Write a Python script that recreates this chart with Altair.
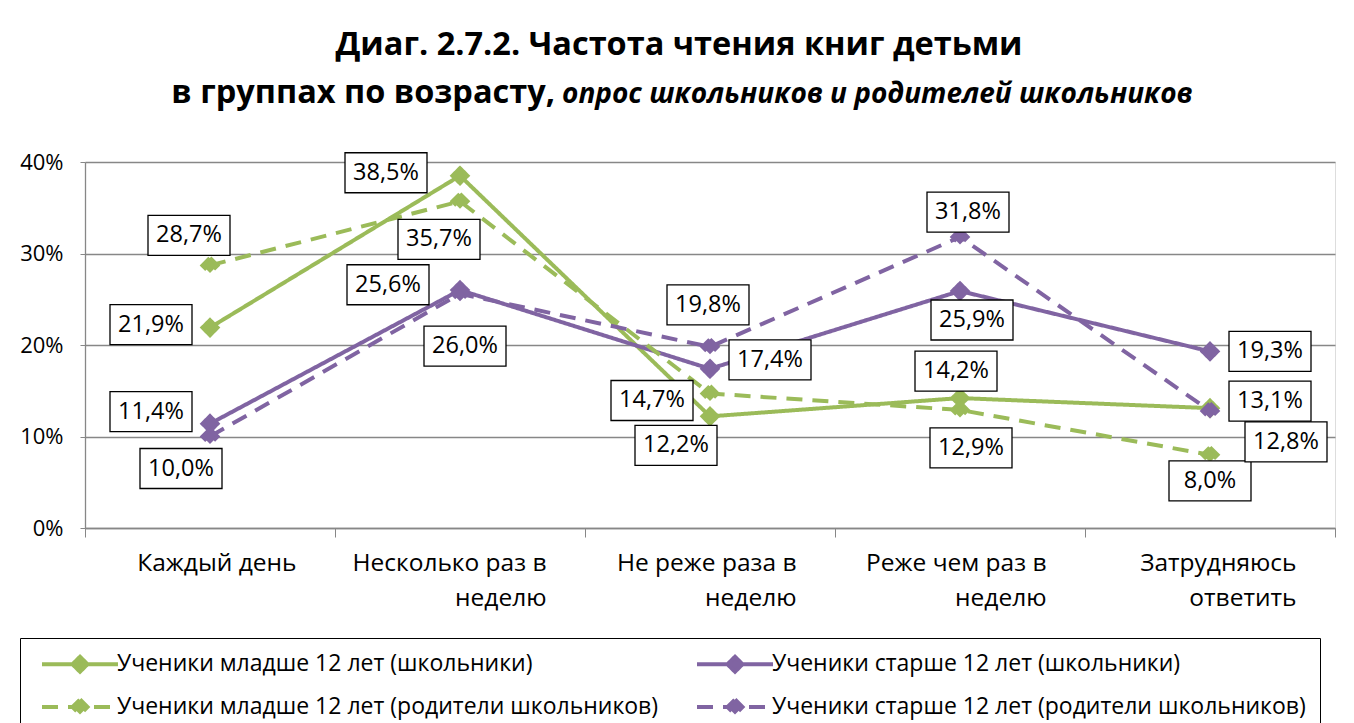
import json
import altair as alt
import pandas as pd

# ---------------- data ----------------
categories = ["Каждый день", "Несколько раз в неделю", "Не реже раза в неделю",
              "Реже чем раз в неделю", "Затрудняюсь ответить"]
category_lines = [["Каждый день"], ["Несколько раз в", "неделю"], ["Не реже раза в", "неделю"],
                  ["Реже чем раз в", "неделю"], ["Затрудняюсь", "ответить"]]
series_names = ["Ученики младше 12 лет (школьники)",
                "Ученики старше 12 лет (школьники)",
                "Ученики младше 12 лет (родители школьников)",
                "Ученики старше 12 лет (родители школьников)"]
young_pupils = [21.9, 38.5, 12.2, 14.2, 13.1]
old_pupils = [11.4, 26.0, 17.4, 25.9, 19.3]
young_parents = [28.7, 35.7, 14.7, 12.9, 8.0]
old_parents = [10.0, 25.6, 19.8, 31.8, 12.8]
y_ticks = [0, 10, 20, 30, 40]

title_line1 = "Диаг. 2.7.2. Частота чтения книг детьми"
title_line2_bold = "в группах по возрасту,"
title_line2_italic = "опрос школьников и родителей школьников"

# ---------------- styles ----------------
series_colors = ["#9BBB59", "#8064A2", "#9BBB59", "#8064A2"]
series_dashes = [[1, 0], [1, 0], [16, 10], [16, 10]]
# data-label box offsets (pixels) from each point, per series
label_dx = [[-59, -74, -34, -4, 60], [-59, 5, 60, 12, 60],
            [-21, -21, -58, 11, 0], [-29, -72, -2, 8, 76]]
label_dy = [[-3, -3, 29, -27, -7], [-12, 56, -9, 29, 0],
            [-30, 38, 7, 38, 26], [32, -9, -42, -25, 31]]
FONT = "Open Sans"
GRAY = "#878787"
DIAMOND = "M0,-0.75L0.75,0L0,0.75L-0.75,0Z"
LEGEND_SYMBOL = "M-3.8,0H3.8M0,-0.75L0.75,0L0,0.75L-0.75,0Z"

values_by_series = [young_pupils, old_pupils, young_parents, old_parents]
rows = []
for s, (name, vals) in enumerate(zip(series_names, values_by_series)):
    for i, v in enumerate(vals):
        rows.append({"idx": i, "series": name, "value": v,
                     "label": f"{v:.1f}%".replace(".", ","),
                     "dx": label_dx[s][i], "dy": label_dy[s][i]})
df = pd.DataFrame(rows)

n = len(categories)
x_tick_values = [i - 0.5 for i in range(n + 1)] + list(range(n))
label_expr = ("datum.value % 1 === 0 ? " + json.dumps(category_lines, ensure_ascii=False)
              + "[datum.value] : ''")

x_enc = alt.X("idx:Q",
              scale=alt.Scale(domain=[-0.5, n - 0.5], nice=False, zero=False),
              axis=alt.Axis(values=sorted(x_tick_values), labelExpr=label_expr, grid=False, title=None,
                            tickOpacity={"condition": {"test": "datum.value % 1 !== 0", "value": 1}, "value": 0},
                            tickSize=9, tickColor=GRAY, domainColor=GRAY, domainWidth=1.3,
                            labelFont=FONT, labelFontSize=24.5, labelColor="black", labelLimit=1000,
                            labelAlign="right", labelOffset=86, labelBaseline="top",
                            labelPadding=14, labelLineHeight=35,
                            labelOverlap=False, labelFlush=False, labelBound=False))
y_enc = alt.Y("value:Q",
              scale=alt.Scale(domain=[0, 40], nice=False),
              axis=alt.Axis(values=y_ticks, labelExpr="datum.value + '%'", grid=True,
                            gridColor=GRAY, gridWidth=1.3, domainColor=GRAY, domainWidth=1.3,
                            tickColor=GRAY, tickSize=5, labelFont=FONT, labelFontSize=22,
                            labelColor="black", labelPadding=17, title=None))

color_scale = alt.Scale(domain=series_names, range=series_colors)
dash_scale = alt.Scale(domain=series_names, range=series_dashes)

legend = alt.Legend(orient="none", legendX=-65, legendY=476, columns=2, direction="horizontal",
                    title=None, labelFont=FONT, labelFontSize=23, labelColor="black", labelLimit=2000,
                    symbolType=LEGEND_SYMBOL, symbolSize=400, symbolStrokeWidth=4,
                    symbolOffset=34, labelOffset=25, rowPadding=11, columnPadding=30,
                    padding=14, strokeColor="black", fillColor="white")

lines = alt.Chart(df).mark_line(strokeWidth=4, strokeCap="butt").encode(
    x=x_enc, y=y_enc,
    stroke=alt.Stroke("series:N", scale=color_scale, legend=None),
    strokeDash=alt.StrokeDash("series:N", scale=dash_scale, legend=None),
    order="idx:Q",
)

points = alt.Chart(df).mark_point(filled=True, shape=DIAMOND, size=400, strokeWidth=4, opacity=1).encode(
    x=x_enc, y=y_enc,
    fill=alt.Fill("series:N", scale=color_scale, legend=legend),
    stroke=alt.Stroke("series:N", scale=color_scale, legend=legend),
    strokeDash=alt.StrokeDash("series:N", scale=dash_scale, legend=legend),
)

boxes = alt.Chart(df).transform_calculate(
    box="'M' + (datum.dx - 41) + ',' + (datum.dy - 20) + 'h82v40h-82z'"
).mark_point(size=4, fill="white", stroke="black", strokeWidth=1.3, opacity=1, filled=False).encode(
    x=x_enc, y=y_enc,
    shape=alt.Shape("box:N", scale=None, legend=None),
)

texts = alt.Chart(df).mark_text(font=FONT, fontSize=23.5, color="black", align="center", baseline="middle",
                                dx=alt.ExprRef(expr="datum.dx"), dy=alt.ExprRef(expr="datum.dy")).encode(
    x=x_enc, y=y_enc, text="label:N",
)

t2a = alt.Chart(pd.DataFrame({"t": [title_line2_bold]})).mark_text(
    font=FONT, fontSize=32.5, fontWeight="bold", align="right", baseline="alphabetic", color="black"
).encode(text="t:N", x=alt.value(470), y=alt.value(-59))
t2b = alt.Chart(pd.DataFrame({"t": [title_line2_italic]})).mark_text(
    font=FONT, fontSize=28, fontWeight="bold", fontStyle="italic", align="left", baseline="alphabetic", color="black"
).encode(text="t:N", x=alt.value(477), y=alt.value(-59))

chart = alt.layer(lines, points, boxes, texts, t2a, t2b).resolve_legend(
    stroke="independent", strokeDash="independent", fill="independent"
).properties(
    width=1250, height=366,
    autosize=alt.AutoSizeParams(type="none"),
    padding={"left": 77, "top": 154, "right": 11, "bottom": 195},
    title=alt.TitleParams(text=title_line1, font=FONT, fontSize=32.5, fontWeight="bold", color="black",
                          anchor="middle", frame="group", dx=-31, offset=16),
).configure_view(stroke=None).configure(background="white")

chart.save("out.html", embed_options={"renderer": "svg", "actions": False})
